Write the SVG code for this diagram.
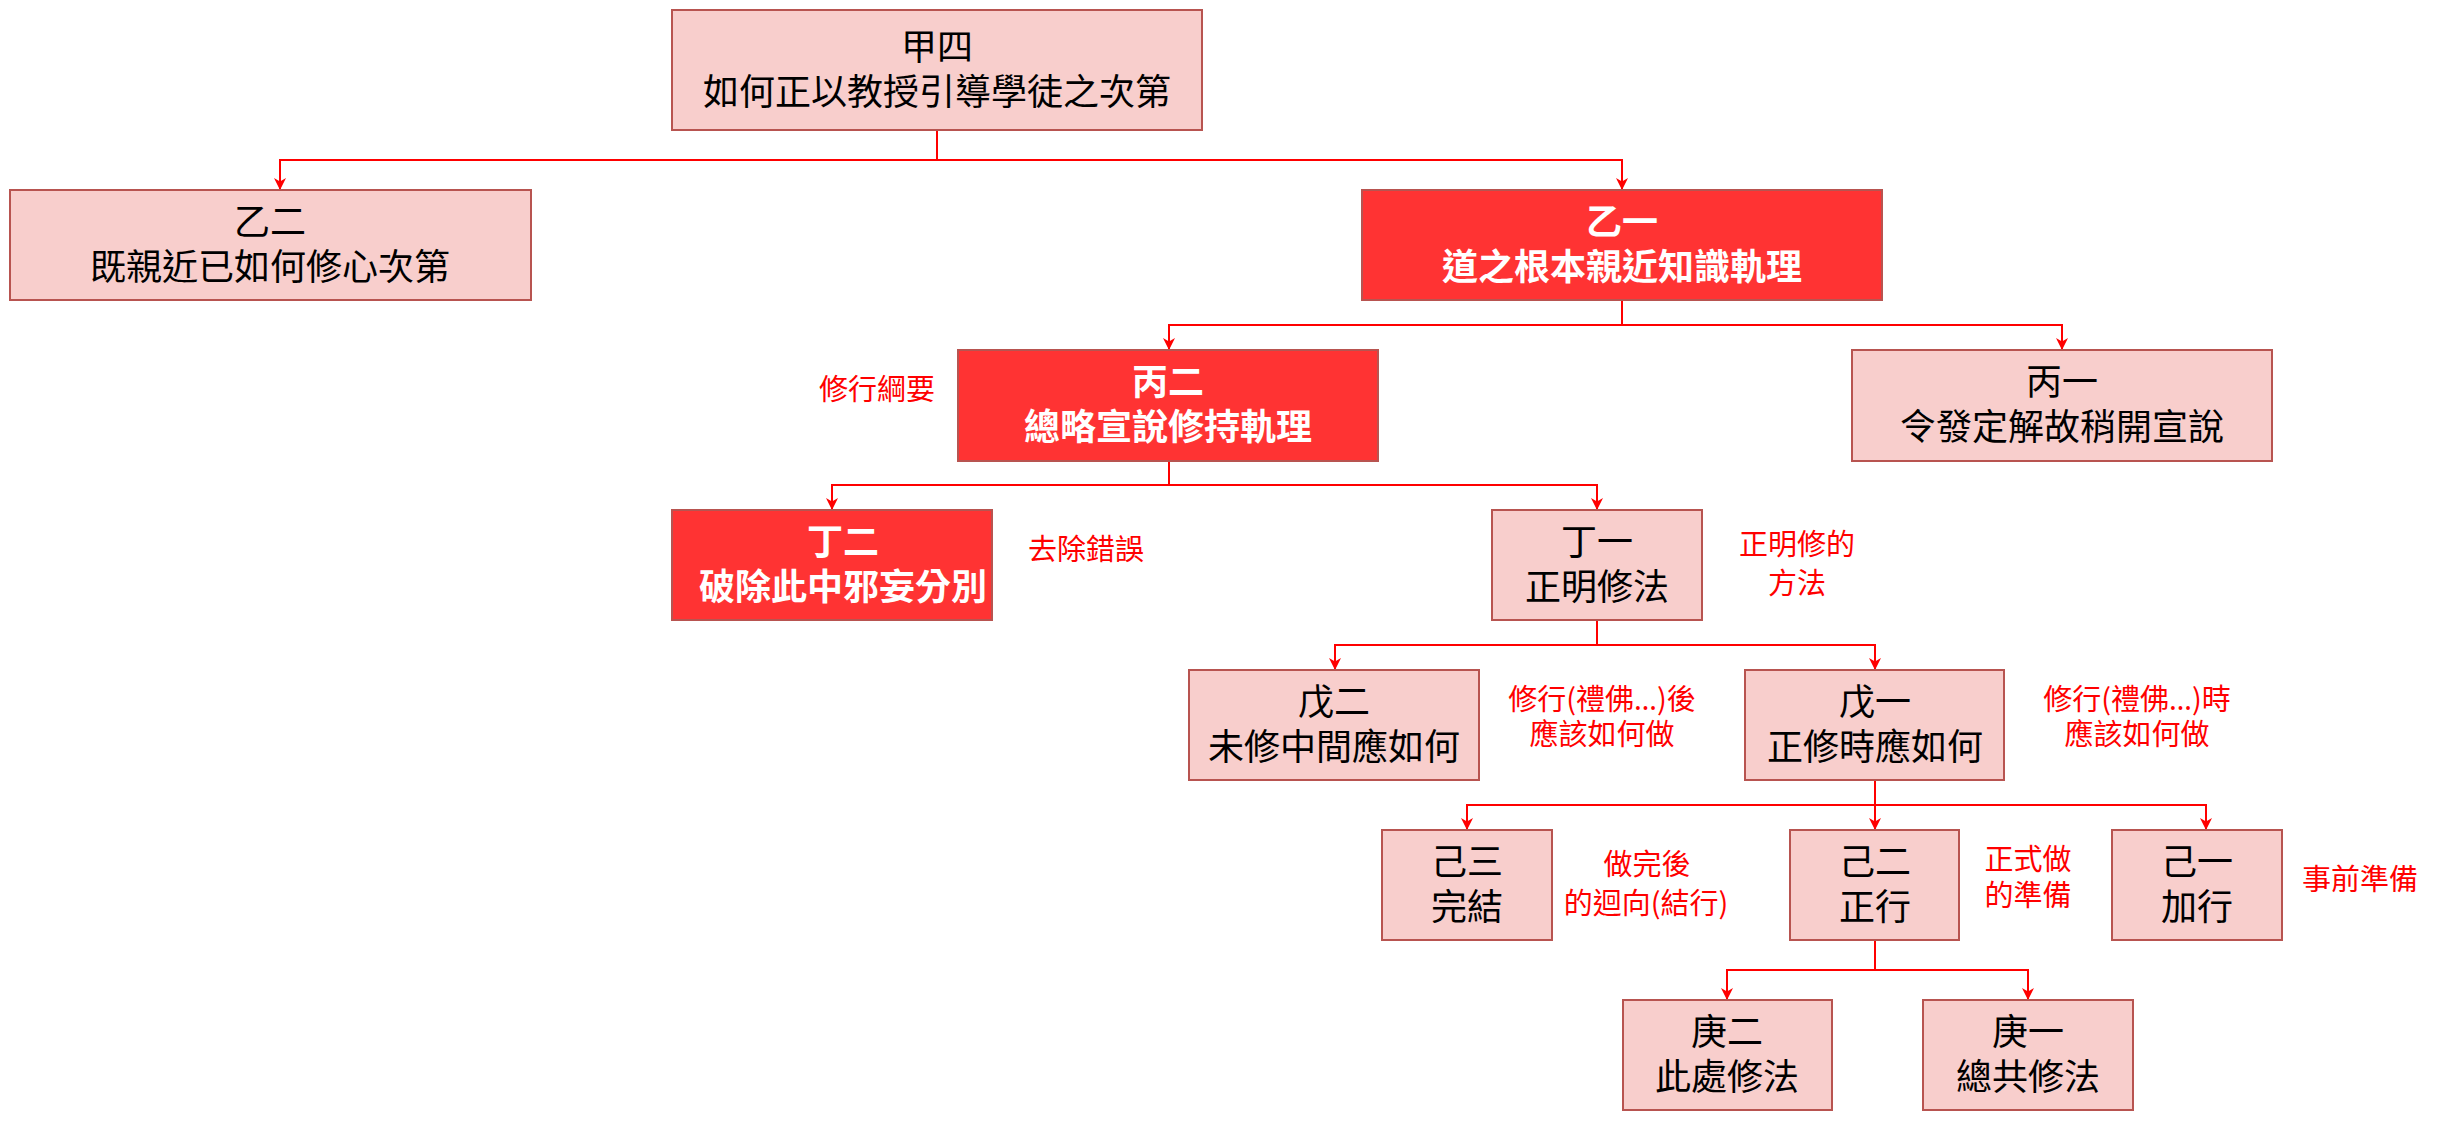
<svg xmlns="http://www.w3.org/2000/svg" width="2440" height="1122" viewBox="0 0 2440 1122">
<style>
.n{fill:#F8CECC;stroke:#B85450;stroke-width:2}
.r{fill:#FF3333;stroke:#B85450;stroke-width:2}
.t{font-family:"Noto Sans CJK TC","Noto Sans CJK SC",sans-serif;font-size:36px;fill:#000;text-anchor:middle}
.w{fill:#FFFFFF;font-weight:bold}
.l{font-family:"Noto Sans CJK TC","Noto Sans CJK SC",sans-serif;font-size:29px;fill:#FF0000;text-anchor:middle}
.e{font-family:"Noto Sans",sans-serif}
.c{fill:none;stroke:#FF0000;stroke-width:2}
</style>
<defs>
<marker id="a" viewBox="0 0 10 10" refX="10" refY="5" markerWidth="12" markerHeight="12" markerUnits="userSpaceOnUse" orient="auto">
<path d="M0,0 L10,5 L0,10 L3,5 z" fill="#FF0000"/>
</marker>
</defs>
<rect width="2440" height="1122" fill="#FFFFFF"/>
<g id="connectors">
<path class="c" marker-end="url(#a)" d="M937,130 V160 H280 V190"/>
<path class="c" marker-end="url(#a)" d="M937,130 V160 H1622 V190"/>
<path class="c" marker-end="url(#a)" d="M1622,300 V325 H1169 V350"/>
<path class="c" marker-end="url(#a)" d="M1622,300 V325 H2062 V350"/>
<path class="c" marker-end="url(#a)" d="M1169,461 V485 H832 V510"/>
<path class="c" marker-end="url(#a)" d="M1169,461 V485 H1597 V510"/>
<path class="c" marker-end="url(#a)" d="M1597,620 V645 H1335 V670"/>
<path class="c" marker-end="url(#a)" d="M1597,620 V645 H1875 V670"/>
<path class="c" marker-end="url(#a)" d="M1875,780 V805 H1467 V830"/>
<path class="c" marker-end="url(#a)" d="M1875,780 V830"/>
<path class="c" marker-end="url(#a)" d="M1875,780 V805 H2206 V830"/>
<path class="c" marker-end="url(#a)" d="M1875,940 V970 H1727 V1000"/>
<path class="c" marker-end="url(#a)" d="M1875,940 V970 H2028 V1000"/>
</g>
<g id="n-jia4"><rect class="n" x="672" y="10" width="530" height="120"/><text class="t"><tspan x="937" y="60">甲四</tspan><tspan x="937" y="105">如何正以教授引導學徒之次第</tspan></text></g>
<g id="n-yi2"><rect class="n" x="10" y="190" width="521" height="110"/><text class="t"><tspan x="270" y="235">乙二</tspan><tspan x="270" y="280">既親近已如何修心次第</tspan></text></g>
<g id="n-yi1"><rect class="r" x="1362" y="190" width="520" height="110"/><text class="t w"><tspan x="1622" y="235">乙一</tspan><tspan x="1622" y="280">道之根本親近知識軌理</tspan></text></g>
<g id="n-bing2"><rect class="r" x="958" y="350" width="420" height="111"/><text class="t w"><tspan x="1168" y="395">丙二</tspan><tspan x="1168" y="440">總略宣說修持軌理</tspan></text></g>
<g id="n-bing1"><rect class="n" x="1852" y="350" width="420" height="111"/><text class="t"><tspan x="2062" y="395">丙一</tspan><tspan x="2062" y="440">令發定解故稍開宣說</tspan></text></g>
<g id="n-ding2"><rect class="r" x="672" y="510" width="320" height="110"/><text class="t w"><tspan x="843" y="555">丁二</tspan><tspan x="843" y="600">破除此中邪妄分別</tspan></text></g>
<g id="n-ding1"><rect class="n" x="1492" y="510" width="210" height="110"/><text class="t"><tspan x="1597" y="555">丁一</tspan><tspan x="1597" y="600">正明修法</tspan></text></g>
<g id="n-wu2"><rect class="n" x="1189" y="670" width="290" height="110"/><text class="t"><tspan x="1334" y="715">戊二</tspan><tspan x="1334" y="760">未修中間應如何</tspan></text></g>
<g id="n-wu1"><rect class="n" x="1745" y="670" width="259" height="110"/><text class="t"><tspan x="1875" y="715">戊一</tspan><tspan x="1875" y="760">正修時應如何</tspan></text></g>
<g id="n-ji3"><rect class="n" x="1382" y="830" width="170" height="110"/><text class="t"><tspan x="1467" y="875">己三</tspan><tspan x="1467" y="920">完結</tspan></text></g>
<g id="n-ji2"><rect class="n" x="1790" y="830" width="169" height="110"/><text class="t"><tspan x="1875" y="875">己二</tspan><tspan x="1875" y="920">正行</tspan></text></g>
<g id="n-ji1"><rect class="n" x="2112" y="830" width="170" height="110"/><text class="t"><tspan x="2197" y="875">己一</tspan><tspan x="2197" y="920">加行</tspan></text></g>
<g id="n-geng2"><rect class="n" x="1623" y="1000" width="209" height="110"/><text class="t"><tspan x="1727" y="1045">庚二</tspan><tspan x="1727" y="1090">此處修法</tspan></text></g>
<g id="n-geng1"><rect class="n" x="1923" y="1000" width="210" height="110"/><text class="t"><tspan x="2028" y="1045">庚一</tspan><tspan x="2028" y="1090">總共修法</tspan></text></g>
<g id="labels">
<text class="l" x="877" y="400">修行綱要</text>
<text class="l" x="1086" y="560">去除錯誤</text>
<text class="l"><tspan x="1797" y="555">正明修的</tspan><tspan x="1797" y="594">方法</tspan></text>
<text class="l"><tspan x="1602" y="710">修行(禮佛<tspan class="e">…</tspan>)後</tspan><tspan x="1602" y="745">應該如何做</tspan></text>
<text class="l"><tspan x="2137" y="710">修行(禮佛<tspan class="e">…</tspan>)時</tspan><tspan x="2137" y="745">應該如何做</tspan></text>
<text class="l"><tspan x="1647" y="875">做完後</tspan><tspan x="1646" y="914">的迴向(結行)</tspan></text>
<text class="l"><tspan x="2028" y="870">正式做</tspan><tspan x="2028" y="906">的準備</tspan></text>
<text class="l" x="2360" y="890">事前準備</text>
</g>
</svg>
